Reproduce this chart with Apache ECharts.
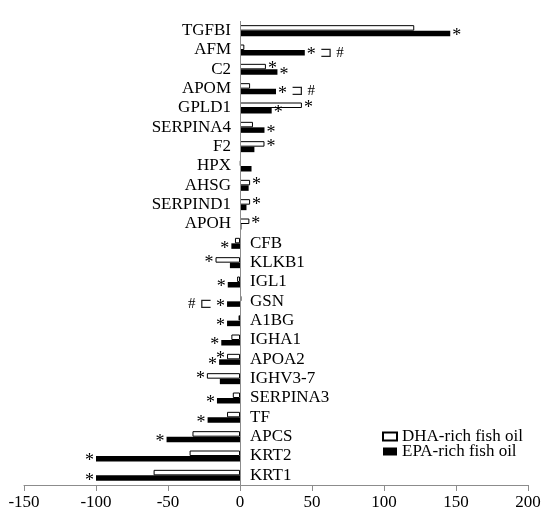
<!DOCTYPE html>
<html>
<head>
<meta charset="utf-8">
<script src="https://cdn.jsdelivr.net/npm/echarts@6/dist/echarts.min.js"></script>
<style>
html,body{margin:0;padding:0;background:#fff;}
#chart{width:550px;height:520px;}
</style>
</head>
<body>
<div id="chart"></div>
<script>
const categories = ['TGFBI','AFM','C2','APOM','GPLD1','SERPINA4','F2','HPX','AHSG','SERPIND1','APOH','CFB','KLKB1','IGL1','GSN','A1BG','IGHA1','APOA2','IGHV3-7','SERPINA3','TF','APCS','KRT2','KRT1'];
const dhaValues = [121, 3, 18, 7, 43, 9, 17, 0.5, 7, 7, 6.5, -3.5, -17, -2, 1, -1, -6, -9, -23, -5, -9, -33, -35, -60];
const epaValues = [146, 45, 26, 25, 22, 17, 10, 8, 6, 4.5, 1, -6, -7, -8.5, -9, -9, -13, -14.5, -14, -16, -22.5, -51, -100, -100];
const dhaSig = [0,0,1,0,1,0,1,0,1,1,1,0,1,0,0,0,0,1,1,0,0,0,0,0];
const epaSig = [1,1,1,1,1,1,0,0,0,0,0,1,0,1,1,1,1,1,0,1,1,1,1,1];
const groupDiff = [0,1,0,1,0,0,0,0,0,0,0,0,0,0,1,0,0,0,0,0,0,0,0,0];
const seriesNames = ['DHA-rich fish oil','EPA-rich fish oil'];
const xTicks = {min: -150, max: 200, interval: 50};

const serif = 'Liberation Serif';
const axisGray = '#8c8c8c';

const richStyles = {
  s: {fontFamily: serif, fontSize: 18, color: '#000'},
  b: {fontFamily: 'DejaVu Sans', fontSize: 15, color: '#222', padding: [0, 0, 6, 0]},
  h: {fontFamily: serif, fontSize: 15, color: '#000', padding: [0, 0, 6, 0]},
  g: {width: 4}
};

function barData(values) {
  return values.map(v => ({
    value: v,
    label: {position: v >= 0 ? 'right' : 'left'}
  }));
}
// category names sit on the zero line: left of it when the EPA change is positive, right of it otherwise
function nameData() {
  return categories.map((c, i) => ({
    value: 0,
    label: {position: epaValues[i] >= 0 ? 'left' : 'right', distance: epaValues[i] >= 0 ? 9 : 10}
  }));
}

const chart = echarts.init(document.getElementById('chart'), null, {renderer: 'canvas'});
chart.setOption({
  backgroundColor: '#fff',
  animation: false,
  grid: {left: 24, right: 22, top: 21, bottom: 35, containLabel: false, outerBoundsMode: 'none'},
  legend: {
    data: seriesNames,
    orient: 'vertical',
    left: 377,
    top: 423,
    itemWidth: 14,
    itemHeight: 8,
    itemGap: -2,
    icon: 'rect',
    textStyle: {fontFamily: serif, fontSize: 17, color: '#000'}
  },
  xAxis: {
    type: 'value',
    min: xTicks.min,
    max: xTicks.max,
    interval: xTicks.interval,
    axisLine: {show: true, onZero: false, lineStyle: {color: axisGray, width: 1}},
    axisTick: {show: true, length: 6, lineStyle: {color: axisGray}},
    splitLine: {show: false},
    axisLabel: {fontFamily: serif, fontSize: 17, color: '#000', margin: 9}
  },
  yAxis: [
    {
      type: 'category',
      inverse: true,
      data: categories,
      show: false
    },
    {
      type: 'category',
      inverse: true,
      data: categories,
      show: false
    }
  ],
  series: [
    {
      name: seriesNames[0],
      type: 'bar',
      yAxisIndex: 0,
      data: barData(dhaValues),
      barWidth: 5.5,
      barGap: '0%',
      itemStyle: {color: '#fff', borderColor: '#000', borderWidth: 1},
      label: {
        show: true,
        distance: 2,
        offset: [0, 3],
        fontFamily: serif, fontSize: 18, color: '#000',
        formatter: p => (dhaSig[p.dataIndex] ? '*' : '')
      }
    },
    {
      name: seriesNames[1],
      type: 'bar',
      yAxisIndex: 0,
      data: barData(epaValues),
      barWidth: 5.5,
      barGap: '0%',
      itemStyle: {color: '#000'},
      label: {
        show: true,
        distance: 2,
        offset: [0, 3],
        rich: richStyles,
        formatter: p => {
          const i = p.dataIndex;
          const star = epaSig[i] ? '{s|*}' : '';
          if (!groupDiff[i]) return star;
          if (epaValues[i] >= 0) return star + '{g|}{b|⊐}{g|}{h|#}';
          return '{h|#}{g|}{b|⊏}{g|}' + star;
        }
      }
    },
    {
      name: 'names',
      type: 'bar',
      yAxisIndex: 1,
      data: nameData(),
      barWidth: 1,
      itemStyle: {color: 'rgba(0,0,0,0)'},
      label: {
        show: true,
        fontFamily: serif, fontSize: 17, color: '#000',
        formatter: p => categories[p.dataIndex]
      },
      markLine: {
        silent: true,
        symbol: 'none',
        label: {show: false},
        lineStyle: {color: axisGray, width: 1, type: 'solid'},
        data: [{xAxis: 0}]
      },
      z: 1
    }
  ]
});
</script>
</body>
</html>
